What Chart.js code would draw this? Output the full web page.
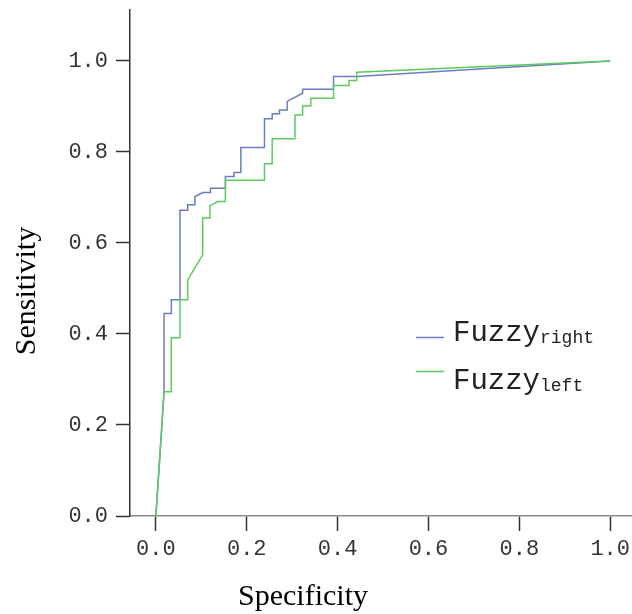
<!DOCTYPE html>
<html>
<head>
<meta charset="utf-8">
<script src="https://cdn.jsdelivr.net/npm/chart.js@4"></script>
<style>
  html, body { margin: 0; padding: 0; background: #fff; }
  #wrap { width: 632px; height: 614px; position: relative; }
</style>
</head>
<body>
<div id="wrap"><canvas id="rocChart"></canvas></div>
<script>
// ROC curve vertices (specificity axis, sensitivity)
const rightSpec = [0, 0.018, 0.018, 0.034, 0.034, 0.053, 0.053, 0.070, 0.070, 0.086, 0.086, 0.103, 0.120, 0.120,
  0.153, 0.153, 0.172, 0.172, 0.187, 0.187, 0.239, 0.239, 0.256, 0.256, 0.272, 0.272, 0.289, 0.289, 0.323,
  0.323, 0.391, 0.391, 0.442, 1.0];
const rightSens = [0, 0.273, 0.445, 0.445, 0.475, 0.475, 0.672, 0.672, 0.684, 0.684, 0.702, 0.711, 0.711, 0.720,
  0.720, 0.746, 0.746, 0.755, 0.755, 0.810, 0.810, 0.873, 0.873, 0.884, 0.884, 0.892, 0.892, 0.911, 0.929,
  0.938, 0.938, 0.966, 0.966, 1.0];

const leftSpec = [0, 0.018, 0.034, 0.034, 0.053, 0.053, 0.070, 0.070, 0.103, 0.103, 0.119, 0.119, 0.137, 0.153,
  0.153, 0.239, 0.239, 0.256, 0.256, 0.306, 0.306, 0.323, 0.323, 0.341, 0.341, 0.391, 0.391, 0.425, 0.425,
  0.442, 0.442, 1.0];
const leftSens = [0, 0.273, 0.273, 0.392, 0.392, 0.475, 0.475, 0.519, 0.574, 0.655, 0.655, 0.682, 0.691, 0.691,
  0.738, 0.738, 0.774, 0.774, 0.829, 0.829, 0.881, 0.881, 0.901, 0.901, 0.918, 0.918, 0.946, 0.946, 0.957,
  0.957, 0.975, 1.0];

const seriesNames = ['Fuzzy', 'Fuzzy'];
const seriesSubs = ['right', 'left'];
const tickValues = [0, 0.2, 0.4, 0.6, 0.8, 1.0];

const toPoints = (xs, ys) => xs.map((x, i) => ({ x: x, y: ys[i] }));

const blue = '#6b7cc4';
const green = '#5ccb5c';

// axis titles sit off-centre in the original, so draw them by hand
const axisTitles = {
  id: 'axisTitles',
  afterDraw(chart, args, opts) {
    const c = chart.ctx;
    c.save();
    c.font = opts.font;
    c.fillStyle = opts.color;
    c.textAlign = 'center';
    c.textBaseline = 'middle';
    c.fillText(opts.xText, opts.xPos[0], opts.xPos[1]);
    c.translate(opts.yPos[0], opts.yPos[1]);
    c.rotate(-Math.PI / 2);
    c.fillText(opts.yText, 0, 0);
    c.restore();
  }
};

// legend with subscripts
const subLegend = {
  id: 'subLegend',
  afterDraw(chart, args, opts) {
    const c = chart.ctx;
    c.save();
    chart.data.datasets.forEach((ds, i) => {
      const row = opts.rows[i];
      c.strokeStyle = ds.borderColor;
      c.lineWidth = 1.5;
      c.beginPath();
      c.moveTo(opts.lineX[0], row.line);
      c.lineTo(opts.lineX[1], row.line);
      c.stroke();
      c.fillStyle = opts.color;
      c.textAlign = 'left';
      c.textBaseline = 'alphabetic';
      c.font = opts.font;
      c.fillText(seriesNames[i], opts.textX, row.base);
      const w = c.measureText(seriesNames[i]).width;
      c.font = opts.subFont;
      c.fillText(seriesSubs[i], opts.textX + w, row.base + 2);
    });
    c.restore();
  }
};

const ctx = document.getElementById('rocChart').getContext('2d');

new Chart(ctx, {
  type: 'scatter',
  data: {
    datasets: [
      {
        label: 'Fuzzy right',
        data: toPoints(rightSpec, rightSens),
        showLine: true,
        borderColor: blue,
        borderWidth: 1.5,
        pointRadius: 0,
        tension: 0,
        order: 1
      },
      {
        label: 'Fuzzy left',
        data: toPoints(leftSpec, leftSens),
        showLine: true,
        borderColor: green,
        borderWidth: 1.5,
        pointRadius: 0,
        tension: 0,
        order: 0
      }
    ]
  },
  options: {
    responsive: true,
    maintainAspectRatio: false,
    animation: false,
    layout: { padding: { top: 10, right: 0, left: 0, bottom: 0 } },
    scales: {
      x: {
        type: 'linear',
        min: -0.057,
        max: 1.048,
        afterBuildTicks: s => { s.ticks = tickValues.map(v => ({ value: v })); },
        afterFit: s => { s.height = 98; s.paddingLeft = 0; s.paddingRight = 0; },
        grid: { drawOnChartArea: false, tickLength: 15, tickColor: '#333', tickWidth: 1.5 },
        border: { color: '#8a8a8a', width: 1.5 },
        ticks: {
          callback: v => v.toFixed(1),
          color: '#333',
          padding: 5,
          maxRotation: 0,
          font: { family: 'Liberation Mono', size: 22 }
        }
      },
      y: {
        type: 'linear',
        min: 0,
        max: 1.112,
        afterBuildTicks: s => { s.ticks = tickValues.map(v => ({ value: v })); },
        afterFit: s => { s.width = 130; s.paddingTop = 0; s.paddingBottom = 0; },
        grid: { drawOnChartArea: false, tickLength: 14, tickColor: '#333', tickWidth: 1.5 },
        border: { color: '#333', width: 1.5 },
        ticks: {
          callback: v => v.toFixed(1),
          color: '#333',
          padding: 8,
          font: { family: 'Liberation Mono', size: 22 }
        }
      }
    },
    plugins: {
      legend: { display: false },
      tooltip: { enabled: false },
      axisTitles: {
        font: '30px "Liberation Serif"',
        color: '#000',
        xText: 'Specificity',
        xPos: [303, 597],
        yText: 'Sensitivity',
        yPos: [27, 291]
      },
      subLegend: {
        font: '29px "Liberation Mono"',
        subFont: '18px "Liberation Mono"',
        color: '#222',
        lineX: [416, 444],
        textX: 453,
        rows: [{ line: 337.5, base: 341 }, { line: 371.5, base: 389 }]
      }
    }
  },
  plugins: [axisTitles, subLegend]
});
</script>
</body>
</html>
